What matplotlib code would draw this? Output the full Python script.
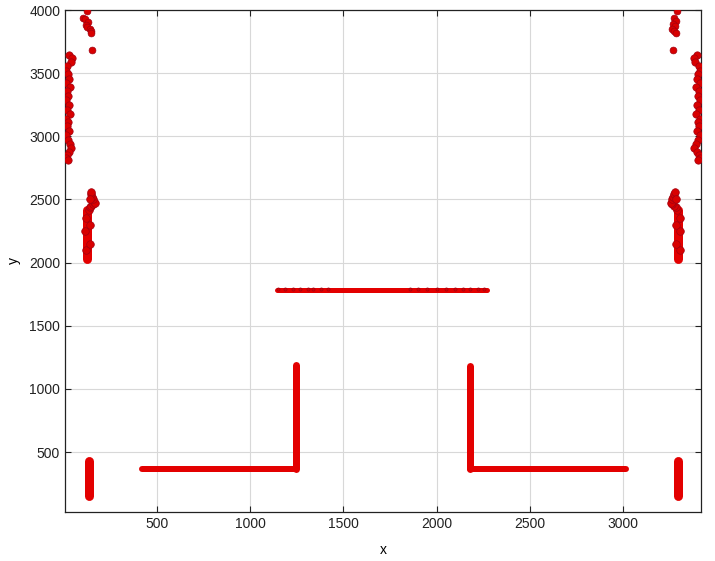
import matplotlib
matplotlib.use('Agg')
import matplotlib.pyplot as plt

plt.rcParams['font.family'] = ['Liberation Sans', 'DejaVu Sans']

# dense straight runs of points: start/end of each run
run_x = [[420, 1247], [1247, 1247], [2177, 2177], [2177, 3018], [1144, 2272],
         [135, 135], [3296, 3296], [127, 127], [3296, 3296]]
run_y = [[368, 368], [368, 1188], [368, 1182], [368, 368], [1781, 1781],
         [150, 430], [150, 430], [2025, 2420], [2025, 2420]]
run_w = [6.0, 7.0, 7.0, 6.0, 5.0, 9.0, 9.0, 9.0, 9.0]  # px

# scattered clusters
left_top_x = [30, 48, 40, 20, 15, 25, 30, 15, 35, 20, 25, 15, 30, 20, 35, 15,
              25, 20, 30, 15, 25, 35, 42, 30, 20, 15, 25]
left_top_y = [3645, 3620, 3585, 3560, 3520, 3490, 3450, 3420, 3390, 3360, 3320,
              3290, 3250, 3210, 3180, 3140, 3110, 3080, 3040, 3010, 2970, 2940,
              2905, 2875, 2850, 2830, 2815]
right_top_x = [3395, 3380, 3388, 3405, 3410, 3400, 3395, 3410, 3390, 3405, 3400,
               3410, 3395, 3405, 3390, 3410, 3400, 3405, 3395, 3410, 3400, 3390,
               3383, 3395, 3405, 3410, 3400]
right_top_y = left_top_y

top_left_x = [104, 115, 131, 120, 125, 142, 150, 145, 151, 125]
top_left_y = [3935, 3925, 3904, 3880, 3864, 3850, 3830, 3817, 3683, 3995]
top_right_x = [3275, 3285, 3270, 3280, 3265, 3275, 3282, 3270, 3290]
top_right_y = [3935, 3915, 3890, 3870, 3850, 3830, 3818, 3683, 3995]

mid_left_x = [135, 140, 150, 160, 165, 170, 160, 155, 150, 145, 140, 118, 140, 116,
              140, 120]
mid_left_y = [2420, 2440, 2445, 2460, 2480, 2470, 2500, 2520, 2545, 2560, 2500,
              2100, 2150, 2250, 2300, 2350]
mid_right_x = [3290, 3285, 3275, 3265, 3260, 3255, 3265, 3270, 3275, 3280, 3285,
               3306, 3283, 3308, 3285, 3304]
mid_right_y = mid_left_y

bump_x = [1150, 1190, 1230, 1270, 1310, 1340, 1380, 1420, 1860, 1900, 1950, 2000,
          2050, 2100, 2140, 2180, 2220, 2255]
bump_y = [1792] * len(bump_x)

fig = plt.figure(figsize=(7.15, 5.61), dpi=100)
ax = fig.add_axes([65 / 715, 1 - 512 / 561, (701 - 65) / 715, (512 - 10) / 561])

red = '#e30000'
px = 0.72  # points per pixel
for xs, ys, w in zip(run_x, run_y, run_w):
    ax.plot(xs, ys, color=red, lw=w * px, solid_capstyle='round', zorder=3)

for xs, ys, s in [(left_top_x, left_top_y, 28), (right_top_x, right_top_y, 28),
                  (top_left_x, top_left_y, 24), (top_right_x, top_right_y, 24),
                  (mid_left_x, mid_left_y, 30), (mid_right_x, mid_right_y, 30),
                  (bump_x, bump_y, 5)]:
    ax.scatter(xs, ys, s=s, color='#d80000', edgecolors='#a00010', linewidths=0.5,
               zorder=3)

ax.set_xlim(8, 3418)
ax.set_ylim(25, 4000)
ax.set_xticks([500, 1000, 1500, 2000, 2500, 3000])
ax.set_yticks([500, 1000, 1500, 2000, 2500, 3000, 3500, 4000])
ax.grid(True, color='#d8d8d8', lw=0.8)
ax.set_axisbelow(True)
ax.tick_params(direction='in', top=True, right=True, labelsize=10, length=4,
               width=0.8, colors='#222222')
for s in ax.spines.values():
    s.set_linewidth(0.9)
    s.set_color('#222222')
ax.set_xlabel('x', fontsize=10, labelpad=9)
ax.set_ylabel('y', fontsize=10, labelpad=6)

fig.savefig('out.png', dpi=100)
